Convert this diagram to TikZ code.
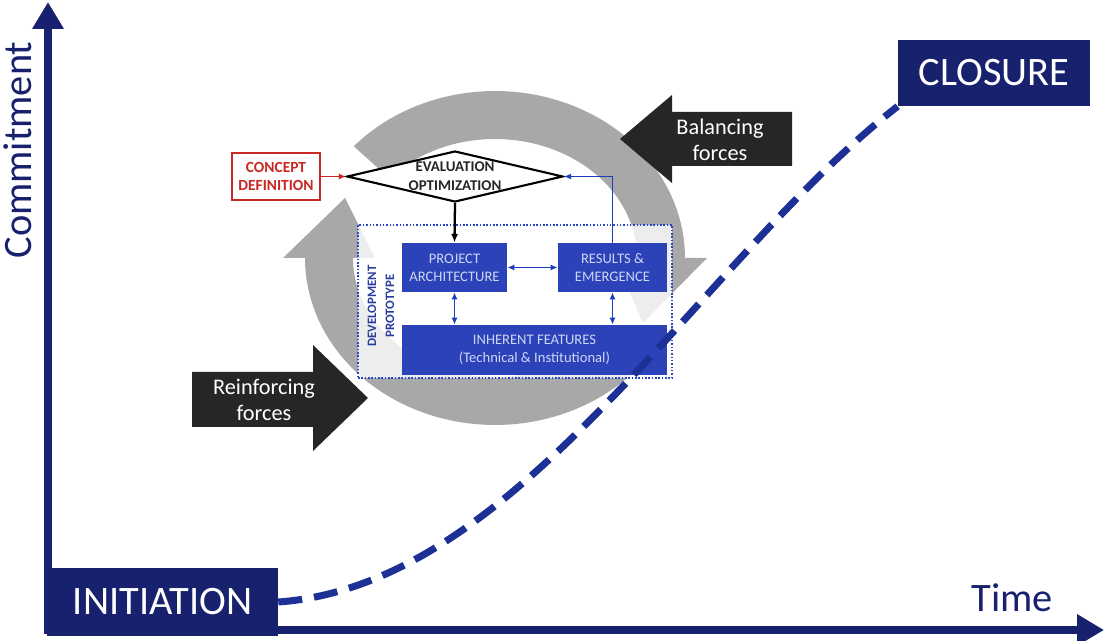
\documentclass[tikz,border=0pt]{standalone}
\usepackage{fontspec}
\setmainfont{Carlito}
\usetikzlibrary{arrows.meta,shapes.geometric}
\definecolor{navy}{RGB}{24,33,110}
\definecolor{curveblue}{RGB}{28,48,150}
\definecolor{boxblue}{RGB}{44,66,184}
\definecolor{boxtext}{RGB}{205,215,245}
\definecolor{linkblue}{RGB}{30,60,190}
\definecolor{dotblue}{RGB}{40,70,200}
\definecolor{devtext}{RGB}{40,60,160}
\definecolor{conceptred}{RGB}{200,40,35}
\definecolor{forcedark}{RGB}{38,38,38}
\definecolor{ringgray}{RGB}{168,168,168}
\begin{document}
\begin{tikzpicture}[x=0.02cm,y=-0.02cm,
  axisline/.style={navy,line width=4.5pt,-{Triangle[width=0.6cm,length=0.54cm]}},
  phasebox/.style={fill=navy,text=white,inner sep=0pt,font=\fontsize{23}{26}\selectfont},
  axislabel/.style={text=navy,inner sep=0pt,font=\fontsize{23}{26}\selectfont},
  forcefill/.style={fill=forcedark},
  forcetext/.style={text=white,align=center,inner sep=0pt,font=\fontsize{12.7}{14.5}\selectfont},
  bluebox/.style={fill=boxblue,text=boxtext,align=center,inner sep=0pt,font=\fontsize{8.3}{10.4}\selectfont},
  link/.style={linkblue,line width=1.1pt},
  dbl/.style={link,{Latex[length=4pt,width=3.5pt]}-{Latex[length=4pt,width=3.5pt]}},
  single/.style={link,-{Latex[length=4pt,width=3.5pt]}}
]
\useasboundingbox (0,0) rectangle (1107,641);

% gray circular arrows
\fill[ringgray] plot[domain=138:0,samples=60] ({495+190*cos(\x)},{258-167*sin(\x)})
  -- (707,258) -- (643,323) -- (615,258)
  -- plot[domain=0:138,samples=60] ({495+142*cos(\x)},{258-119*sin(\x)}) -- cycle;
\fill[ringgray] plot[domain=-38:-180,samples=60] ({495+190*cos(\x)},{258-167*sin(\x)})
  -- (283,258) -- (345,198) -- (375,258)
  -- plot[domain=-180:-38,samples=60] ({495+142*cos(\x)},{258-119*sin(\x)}) -- cycle;

% force arrows
\fill[forcefill] (792,112) -- (672,112) -- (672,95) -- (620,139) -- (672,183) -- (672,166) -- (792,166) -- cycle;
\node[forcetext] (bal) at (720,140) {Balancing\\forces};
\fill[forcefill] (192,372) -- (313,372) -- (313,345) -- (368,398) -- (313,451) -- (313,427) -- (192,427) -- cycle;
\node[forcetext] (rein) at (264,400) {Reinforcing\\forces};

% development prototype frame
\node[draw=dotblue,densely dotted,line width=0.9pt,fill=white,fill opacity=0.8,
  minimum width=6.28cm,minimum height=3.06cm,inner sep=0pt] (dev) at (515,301.5) {};
\node[rotate=90,text=devtext,align=center,inner sep=0pt,font=\bfseries\fontsize{7.3}{10.2}\selectfont]
  (devlabel) at (381,306) {DEVELOPMENT\\PROTOTYPE};

\node[bluebox,minimum width=2.1cm,minimum height=0.98cm] (pa) at (454.5,267.5) {PROJECT\\ARCHITECTURE};
\node[bluebox,minimum width=2.18cm,minimum height=0.98cm] (re) at (612.5,267.5) {RESULTS \&\\EMERGENCE};
\node[bluebox,minimum width=5.3cm,minimum height=1.0cm] (if) at (534.5,350) {INHERENT FEATURES\\(Technical \& Institutional)};

% evaluation diamond and concept box
\node[diamond,draw=black,line width=1.2pt,fill=white,aspect=4.24,minimum width=4.32cm,minimum height=1.02cm,
  inner sep=0pt,align=center,text=black!85,font=\bfseries\fontsize{8.5}{10.8}\selectfont] (ev) at (455,176.5)
  {EVALUATION\\OPTIMIZATION};
\node[draw=conceptred,line width=1.1pt,fill=white,text=conceptred,align=center,inner sep=0pt,
  minimum width=1.76cm,minimum height=0.94cm,font=\bfseries\fontsize{8.8}{10.6}\selectfont] (cd) at (276,176.5)
  {CONCEPT\\DEFINITION};

% connectors
\draw[conceptred,line width=1.1pt,-{Latex[length=4pt,width=3.5pt]}] (cd.east) -- (ev.west);
\draw[black,line width=1.3pt,-{Latex[length=5pt,width=4pt]}] (ev.south) -- (pa.north);
\draw[single] (re.north) |- (ev.east);
\draw[dbl] (pa.east) -- (re.west);
\draw[dbl] (pa.south) -- (pa.south |- if.north);
\draw[dbl] (re.south) -- (re.south |- if.north);

% axes
\coordinate (origin) at (48,634);
\coordinate (ytop) at (48,2);
\coordinate (xorigin) at (44,630);
\coordinate (xend) at (1104,630);
\draw[axisline] (origin) -- (ytop);
\draw[axisline] (xorigin) -- (xend);
\node[axislabel,rotate=90] (commit) at (18,150) {Commitment};
\node[axislabel] (time) at (1012,598) {Time};

% phases
\node[phasebox,minimum width=4.62cm,minimum height=1.36cm] (init) at (162.5,602) {INITIATION};
\node[phasebox,minimum width=3.84cm,minimum height=1.32cm] (close) at (994,73) {CLOSURE};

% commitment curve
\draw[curveblue,line width=4pt,dash pattern=on 0.48cm off 0.24cm]
  (init.east) .. controls (520,585) and (700,260) .. (close.south west);
\end{tikzpicture}
\end{document}
